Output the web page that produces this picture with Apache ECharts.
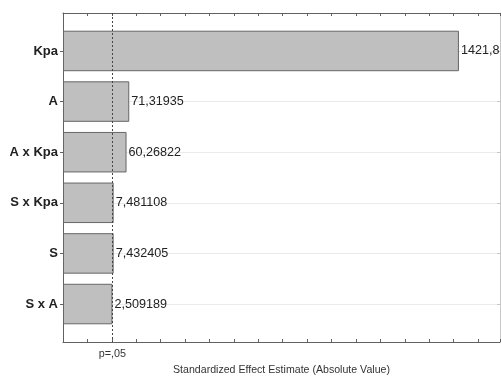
<!DOCTYPE html>
<html>
<head>
<meta charset="utf-8">
<script src="https://cdn.jsdelivr.net/npm/echarts@6/dist/echarts.min.js"></script>
<style>
  html, body { margin: 0; padding: 0; background: #fff; }
  #chart { width: 501px; height: 378px; }
</style>
</head>
<body>
<div id="chart"></div>
<script>
// Pareto chart of standardized effects
const categories = ['Kpa', 'A', 'A x Kpa', 'S x Kpa', 'S', 'S x A'];
const effects = [1421.8, 71.31935, 60.26822, 7.481108, 7.432405, 2.509189];
const effectLabels = ['1421,8', '71,31935', '60,26822', '7,481108', '7,432405', '2,509189'];
const pCritical = 2.0;
const pLabel = 'p=,05';
const xTitle = 'Standardized Effect Estimate (Absolute Value)';

const FONT = '"Liberation Sans", Arial, sans-serif';
const AXIS_COLOR = '#616161';
const positions = categories.map((_, i) => i + 1);

const X_MIN = -200, X_MAX = 1590;
const Y_MIN = 0.25, Y_MAX = 6.75;

// frame grid spans the whole plot box; bar grid is inset by a quarter band
const frame = { left: 63, right: 1, top: 13, bottom: 36 };
const band = (378 - frame.top - frame.bottom) / (Y_MAX - Y_MIN);
const barsGrid = {
  left: frame.left, right: frame.right,
  top: frame.top + (1 - Y_MIN - 0.5) * band,
  bottom: frame.bottom + (Y_MAX - categories.length - 0.5) * band
};

const chart = echarts.init(document.getElementById('chart'), null, { renderer: 'canvas' });

const frameX = (pos, extra) => Object.assign({
  type: 'value', gridIndex: 0, position: pos, min: X_MIN, max: X_MAX, interval: 100,
  axisLine: { show: true, onZero: false, lineStyle: { color: AXIS_COLOR, width: 1 } },
  axisTick: { show: true, inside: true, length: 3, lineStyle: { color: AXIS_COLOR } },
  axisLabel: { show: false },
  splitLine: { show: false }
}, extra);

const frameY = (pos, extra) => Object.assign({
  type: 'value', gridIndex: 0, position: pos, min: Y_MIN, max: Y_MAX, inverse: true,
  axisLine: { show: true, onZero: false, lineStyle: { color: AXIS_COLOR, width: 1 } },
  axisTick: { show: true, length: 3, customValues: positions, lineStyle: { color: AXIS_COLOR } },
  axisLabel: { show: false },
  splitLine: { show: false }
}, extra);

chart.setOption({
  animation: false,
  backgroundColor: '#fff',
  grid: [
    Object.assign({ containLabel: false, outerBoundsMode: 'none' }, frame),
    Object.assign({ containLabel: false, outerBoundsMode: 'none' }, barsGrid)
  ],
  xAxis: [
    frameX('bottom', {
      name: xTitle, nameLocation: 'middle', nameGap: 23,
      nameTextStyle: { fontFamily: FONT, fontSize: 10.6, color: '#333' },
      axisLabel: {
        show: true, customValues: [pCritical], margin: 7,
        formatter: () => pLabel,
        fontFamily: FONT, fontSize: 10.8, color: '#333'
      }
    }),
    frameX('top', {}),
    {
      type: 'value', gridIndex: 1, min: X_MIN, max: X_MAX, startValue: X_MIN,
      show: false
    }
  ],
  yAxis: [
    frameY('left', {
      axisLabel: {
        show: true, customValues: positions, margin: 5,
        formatter: (v) => categories[Math.round(v) - 1] || '',
        fontFamily: FONT, fontSize: 13, fontWeight: 'bold', color: '#222'
      },
      splitLine: { show: true, lineStyle: { color: '#ebebeb', width: 1 } }
    }),
    frameY('right', {
      axisLine: { show: true, onZero: false, lineStyle: { color: '#c8c8c8', width: 1 } },
      axisTick: { show: true, inside: true, length: 3, customValues: positions, lineStyle: { color: '#c8c8c8' } }
    }),
    {
      type: 'category', gridIndex: 1, data: categories, inverse: true, show: false
    }
  ],
  series: [
    {
      type: 'bar',
      xAxisIndex: 2, yAxisIndex: 2,
      data: effects,
      barWidth: '80%',
      itemStyle: { color: '#bfbfbf', borderColor: '#666', borderWidth: 1 },
      label: {
        show: true, position: 'right', distance: 2,
        formatter: (p) => effectLabels[p.dataIndex],
        fontFamily: FONT, fontSize: 12.6, color: '#222'
      },
      silent: true
    },
    {
      type: 'line',
      xAxisIndex: 0, yAxisIndex: 0,
      data: [],
      silent: true,
      markLine: {
        silent: true, symbol: 'none', animation: false,
        label: { show: false },
        lineStyle: { color: '#444', type: [2, 2], width: 1 },
        data: [{ xAxis: pCritical }]
      }
    }
  ]
});
</script>
</body>
</html>
